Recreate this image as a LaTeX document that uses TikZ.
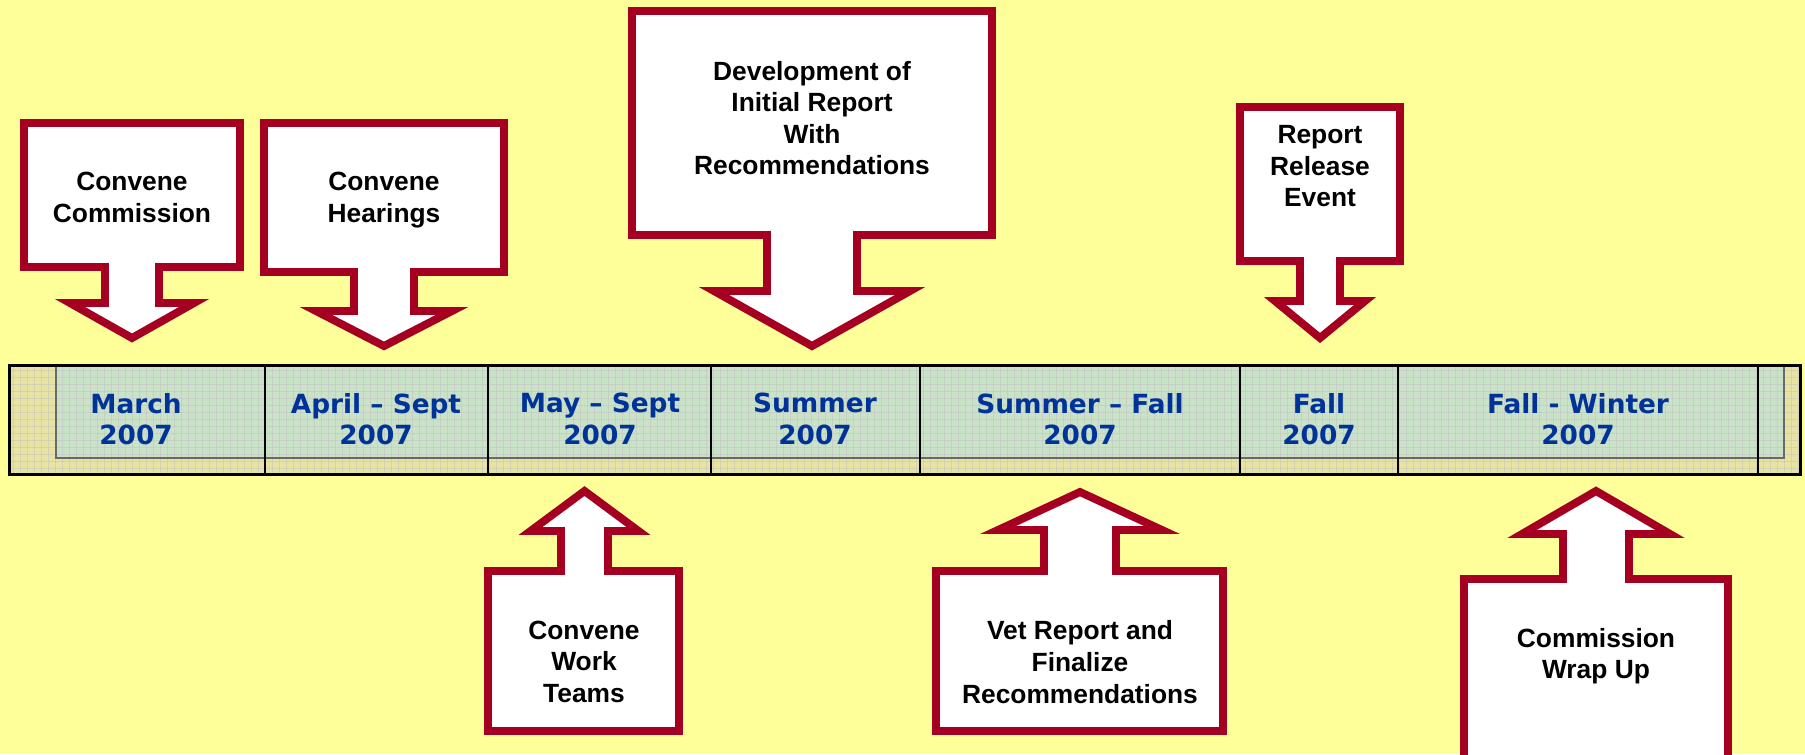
\documentclass[tikz,border=0pt]{standalone}
\usepackage{fontspec}
\setmainfont{Liberation Sans}
\newfontfamily\barfont{DejaVu Sans}
\usepackage{tikz}
\usetikzlibrary{positioning}

\definecolor{bgyellow}{RGB}{255,255,153}
\definecolor{calloutred}{RGB}{165,0,33}
\definecolor{barblue}{RGB}{0,51,153}
\definecolor{barkhaki}{RGB}{231,227,162}
\definecolor{bargreen}{RGB}{201,226,200}
\definecolor{gridgrey}{RGB}{196,192,196}
\definecolor{framegrey}{RGB}{105,105,105}

\tikzset{
  callout/.style={draw=calloutred, fill=white, line width=4.5pt, line join=miter},
  calltext/.style={align=center, inner sep=0pt, text depth=0pt,
    font=\bfseries\fontsize{15}{18}\selectfont},
  bartext/.style={align=center, inner sep=0pt, text depth=0pt, text=barblue,
    font=\barfont\bfseries\fontsize{15}{18}\selectfont},
  gridline/.style={gridgrey, line width=0.5pt, opacity=0.5},
  divider/.style={black, line width=1.4pt}
}

% box left, right, top, bottom, arrow x, stem half, head base y, head half, tip y
\newcommand{\downcallout}[9]{%
  \draw[callout] (#1,#3) -- (#2,#3) -- (#2,#4) -- ({#5+#6},#4) -- ({#5+#6},#7)
    -- ({#5+#8},#7) -- (#5,#9) -- ({#5-#8},#7) -- ({#5-#6},#7) -- ({#5-#6},#4)
    -- (#1,#4) -- cycle;}
\newcommand{\upcallout}[9]{%
  \draw[callout] (#1,#4) -- (#1,#3) -- ({#5-#6},#3) -- ({#5-#6},#7)
    -- ({#5-#8},#7) -- (#5,#9) -- ({#5+#8},#7) -- ({#5+#6},#7) -- ({#5+#6},#3)
    -- (#2,#3) -- (#2,#4) -- cycle;}

\begin{document}
\begin{tikzpicture}[x=0.02cm, y=-0.02cm]
  \useasboundingbox (0,0) rectangle (1805,754);
  \clip (0,0) rectangle (1805,754);
  \fill[bgyellow] (0,0) rectangle (1805,754);

  % timeline bar
  \fill[barkhaki] (8,364) rectangle (1802,476);
  \fill[bargreen] (56,364) rectangle (1784,458);
  \foreach \gx in {13,20,...,1800}
    \draw[gridline] (\gx,365) -- (\gx,475);
  \foreach \gy in {370,377,...,475}
    \draw[gridline] (9,\gy) -- (1801,\gy);
  \draw[framegrey, line width=1.1pt] (56,365) -- (56,458) -- (1784,458) -- (1784,365);
  \foreach \dx in {265,488,711,920,1240,1398,1758}
    \draw[divider] (\dx,364) -- (\dx,476);
  \draw[black, line width=1.7pt] (9.5,365.5) rectangle (1800.5,474.5);

  \node[bartext] (march)   at (136,419)  {March\\2007};
  \node[bartext] (aprsept) at (376,419)  {April – Sept\\2007};
  \node[bartext] (maysept) at (600,419)  {May – Sept\\2007};
  \node[bartext] (summer)  at (815,419)  {Summer\\2007};
  \node[bartext] (sumfall) at (1080,419) {Summer – Fall\\2007};
  \node[bartext] (fall)    at (1319,419) {Fall\\2007};
  \node[bartext] (fallwin) at (1578,419) {Fall - Winter\\2007};

  % callouts above the bar
  \downcallout{24}{240}{123}{267}{132}{27}{303}{62}{338}
  \node[calltext] (commission) at (132,197.5) {Convene\\Commission};
  \downcallout{264}{504}{123}{272}{384}{30}{311}{68}{346}
  \node[calltext] (hearings) at (384,197.5) {Convene\\Hearings};
  \downcallout{632}{992}{11}{235}{812}{45}{291}{98}{346}
  \node[calltext] (initial) at (812,118) {Development of\\Initial Report\\With\\Recommendations};
  \downcallout{1240}{1400}{107}{261}{1320}{20}{301}{45}{338}
  \node[calltext] (release) at (1320,166) {Report\\Release\\Event};

  % callouts below the bar
  \upcallout{488}{679}{571}{731}{584.5}{23.5}{531}{54}{491}
  \node[calltext] (workteams) at (584,661.5) {Convene\\Work\\Teams};
  \upcallout{936}{1223}{571}{731}{1080}{36}{530}{82}{492}
  \node[calltext] (vet) at (1080,662) {Vet Report and\\Finalize\\Recommendations};
  \upcallout{1464}{1728}{579}{780}{1596}{33}{534}{74}{491}
  \node[calltext] (wrapup) at (1596,653.5) {Commission\\Wrap Up};
\end{tikzpicture}
\end{document}
